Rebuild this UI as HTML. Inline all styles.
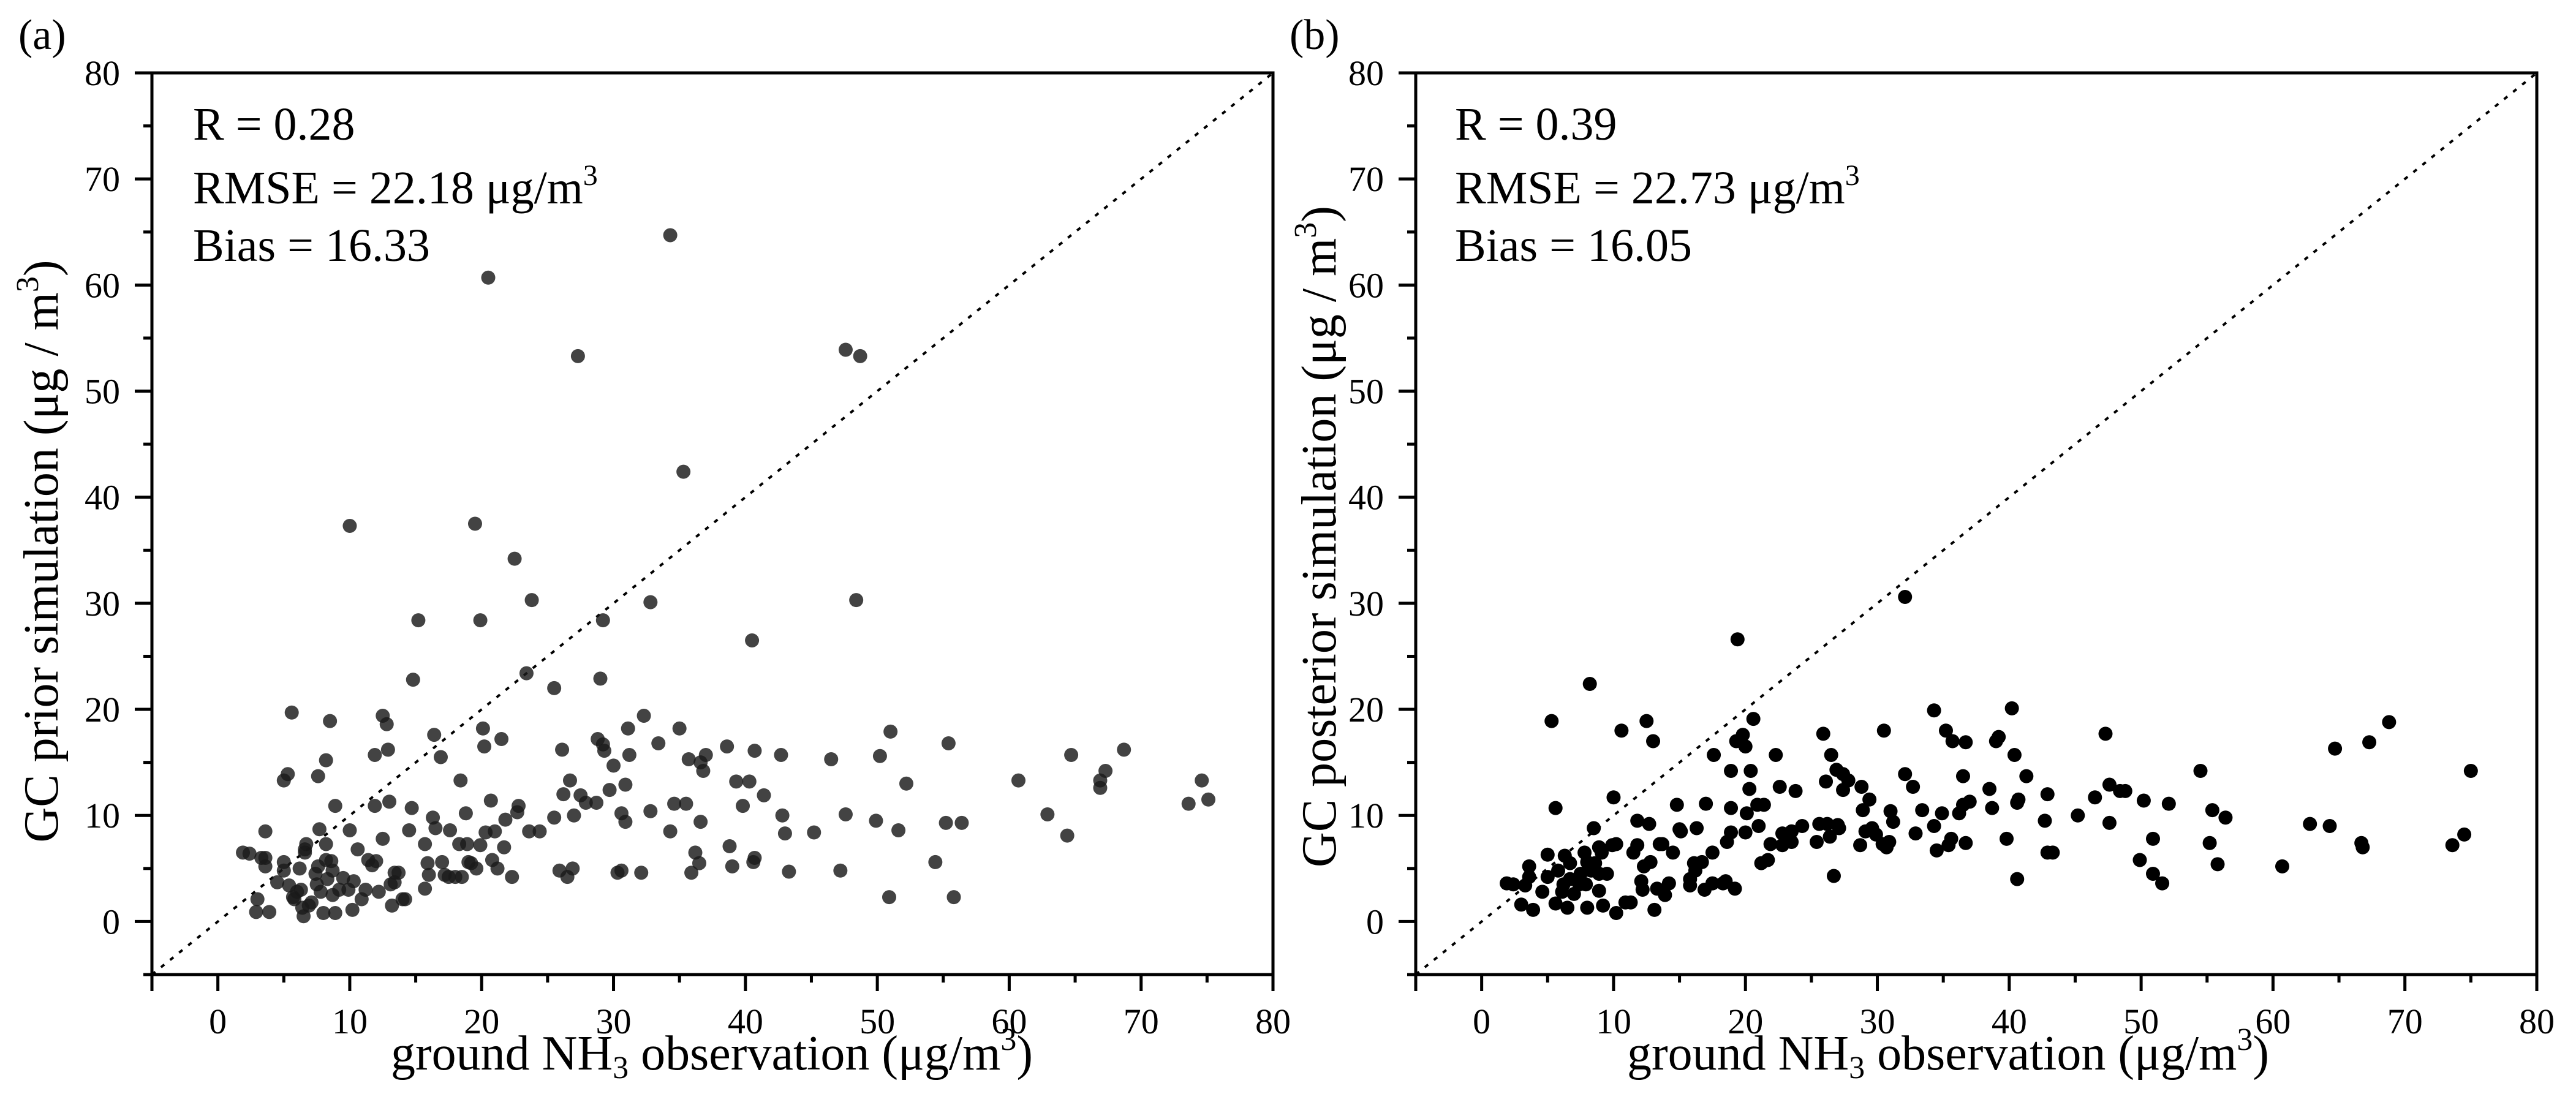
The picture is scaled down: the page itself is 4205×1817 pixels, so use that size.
<!DOCTYPE html>
<html><head><meta charset="utf-8"><style>
html,body{margin:0;padding:0;background:#fff}
svg{display:block}
text,tspan{font-family:"Liberation Serif","Times New Roman",serif}
</style></head><body>
<svg id="fig" width="4205" height="1817" viewBox="0 0 4205 1817" xmlns="http://www.w3.org/2000/svg">
<rect width="4205" height="1817" fill="#fff"/>
<g id="panelA"></g>
<g id="panelB"></g>
</svg>
<script>
const xTickValues=[0,10,20,30,40,50,60,70,80];
const yTickValues=[0,10,20,30,40,50,60,70,80];
const minorTickValues=[-5,5,15,25,35,45,55,65,75];
const priorX=[1.9,2.4,3.0,2.9,3.9,3.3,3.6,3.6,3.6,4.5,5.0,5.0,5.0,5.3,5.6,5.4,5.7,5.8,6.0,6.2,6.3,6.4,6.5,6.6,6.6,6.7,6.9,7.1,7.4,7.6,7.6,7.7,7.5,7.8,8.0,8.2,8.2,8.2,8.3,8.5,8.6,8.7,8.7,8.9,8.9,9.2,9.5,9.9,10.0,10.0,10.2,10.3,10.6,10.9,11.2,11.4,11.7,11.9,11.9,12.0,12.2,12.5,12.5,12.8,12.9,13.0,13.1,13.2,13.4,13.4,13.7,14.0,14.2,14.5,14.7,14.8,15.2,15.7,15.7,15.9,16.0,16.3,16.4,16.5,16.9,17.0,17.2,17.5,17.6,18.0,18.3,18.4,18.5,18.8,18.9,19.0,19.2,19.5,19.6,19.9,19.9,20.1,20.2,20.3,20.5,20.7,20.8,21.0,21.2,21.5,21.7,21.8,22.3,22.5,22.7,22.8,23.6,23.4,23.8,24.4,25.5,25.5,25.9,26.1,26.2,26.5,26.7,26.9,27.0,27.3,27.5,27.9,28.7,28.8,29.0,29.2,29.3,29.2,29.7,30.0,30.3,30.6,30.6,30.9,30.9,31.1,31.2,32.1,32.3,32.8,32.8,33.4,34.3,34.3,34.6,35.0,35.3,35.5,35.7,35.9,36.2,36.5,36.6,36.6,36.8,37.0,38.6,38.8,39.0,39.3,39.8,40.3,40.5,40.6,40.7,40.7,41.4,42.7,42.8,43.0,43.3,45.2,46.5,47.2,47.6,47.6,48.4,48.7,49.9,50.2,50.9,51.0,51.6,52.2,54.4,55.2,55.4,55.8,56.4,60.7,62.9,64.4,64.7,66.9,66.9,67.3,68.7,73.6,74.6,75.1];
const priorY=[6.5,6.4,2.1,0.9,0.9,6.0,6.0,5.2,8.5,3.7,5.6,4.8,13.3,13.9,19.7,3.4,2.3,2.1,2.8,5.0,3.0,1.3,0.5,6.5,6.8,7.3,1.5,1.8,4.5,5.2,13.7,8.7,3.5,2.8,0.8,7.3,15.2,5.8,4.0,18.9,5.7,4.8,2.5,0.8,10.9,3.0,4.1,3.0,8.6,37.3,1.1,3.8,6.8,2.1,3.0,5.8,5.3,10.9,15.7,5.7,2.8,7.8,19.4,18.6,16.2,11.3,3.5,1.5,3.7,4.6,4.6,2.1,2.1,8.6,10.7,22.8,28.4,7.3,3.1,5.5,4.4,9.8,17.6,8.8,15.5,5.6,4.4,4.2,8.6,4.2,7.3,13.3,4.2,10.2,7.3,5.6,5.5,37.5,5.0,7.2,28.4,18.2,16.5,8.4,60.7,11.4,5.8,8.5,5.0,17.2,7.0,9.6,4.2,34.2,10.3,10.9,8.5,23.4,30.3,8.5,22.0,9.8,4.8,16.2,12.0,4.2,13.3,5.0,10.0,53.3,11.9,11.2,11.2,17.2,22.9,16.7,16.1,28.4,12.4,14.7,4.6,4.8,10.2,12.9,9.4,18.2,15.7,4.6,19.4,10.4,30.1,16.8,8.5,64.7,11.1,18.2,42.4,11.1,15.3,4.6,6.5,5.5,9.4,15.0,14.2,15.7,16.5,7.1,5.2,13.2,10.9,13.2,26.5,5.6,6.0,16.1,11.9,15.7,10.0,8.3,4.7,8.4,15.3,4.8,10.1,53.9,30.3,53.3,9.5,15.6,2.3,17.9,8.6,13.0,5.6,9.3,16.8,2.3,9.3,13.3,10.1,8.1,15.7,13.3,12.6,14.2,16.2,11.1,13.3,11.5];
const postX=[1.9,2.4,3.0,3.3,3.6,3.6,3.9,4.6,5.0,5.0,5.3,5.6,5.6,5.8,6.1,6.3,6.2,6.5,6.7,6.7,7.0,7.4,7.5,7.8,7.9,8.0,8.0,8.2,8.3,8.5,8.6,8.9,8.9,8.9,9.1,9.2,9.5,9.9,10.0,10.2,10.2,10.6,10.9,11.3,11.5,11.8,11.8,12.1,12.2,12.3,12.5,12.7,12.8,13.0,13.1,13.3,13.5,13.7,13.9,14.2,14.5,14.8,15.0,15.1,15.8,15.8,16.1,16.2,16.3,16.7,16.9,17.0,17.5,17.5,17.6,18.3,18.5,18.6,18.9,18.9,18.9,19.2,19.4,19.3,19.8,20.0,20.0,20.1,20.3,20.4,20.6,20.9,21.0,21.4,21.2,21.7,21.9,22.3,22.6,22.8,22.8,23.5,23.5,23.8,24.3,25.4,25.6,25.9,26.1,26.2,26.4,26.5,26.7,26.9,27.0,27.1,27.4,27.4,27.8,28.7,28.8,28.9,29.1,29.4,29.6,29.9,30.4,30.5,30.7,30.9,31.0,31.2,32.1,32.1,32.7,32.9,33.4,34.3,34.3,34.5,34.9,35.2,35.4,35.6,35.7,36.2,36.5,36.5,36.7,36.7,37.0,38.5,38.7,39.0,39.2,39.8,40.2,40.4,40.6,40.6,40.7,41.3,42.7,42.9,42.9,43.3,45.2,46.5,47.3,47.6,47.6,48.4,48.8,49.9,50.2,50.9,50.9,51.6,52.1,54.5,55.2,55.4,55.8,56.4,60.7,62.8,64.3,64.7,66.7,66.8,67.3,68.8,73.6,74.5,75.0];
const postY=[3.6,3.5,1.6,3.4,5.2,4.2,1.1,2.8,4.2,6.3,18.9,10.7,1.7,4.8,2.8,6.2,3.5,1.3,5.5,4.0,2.6,3.5,4.5,6.5,3.5,5.6,1.3,22.4,4.8,8.8,5.5,4.5,2.9,7.0,6.5,1.5,4.5,7.2,11.7,0.8,7.3,18.0,1.8,1.8,6.5,7.2,9.5,3.8,3.0,5.2,18.9,9.2,5.6,17.0,1.1,3.1,7.3,7.3,2.5,3.6,6.5,11.0,8.7,8.5,3.4,4.0,5.5,4.8,8.8,5.6,3.0,11.1,6.5,3.6,15.7,3.6,3.8,7.5,14.2,10.7,8.4,3.1,26.6,17.0,17.6,16.5,8.4,10.2,12.5,14.2,19.1,11.0,9.0,11.0,5.5,5.8,7.3,15.7,12.7,8.3,7.2,8.5,7.5,12.3,9.0,7.5,9.2,17.7,13.2,9.2,8.0,15.7,4.3,14.3,9.1,8.8,12.4,13.9,13.3,7.2,12.7,10.5,8.5,11.5,8.8,8.2,7.3,18.0,7.0,7.5,10.4,9.4,13.9,30.6,12.7,8.3,10.5,19.9,9.0,6.7,10.2,18.0,7.2,7.8,17.0,10.2,13.7,11.0,7.4,16.9,11.3,12.5,10.7,17.0,17.4,7.8,20.1,15.7,11.2,4.0,11.5,13.7,9.5,12.0,6.5,6.5,10.0,11.7,17.7,12.9,9.3,12.3,12.3,5.8,11.4,7.8,4.5,3.6,11.1,14.2,7.4,10.5,5.4,9.8,5.2,9.2,9.0,16.3,7.4,7.0,16.9,18.8,7.2,8.2,14.2];

const NS='http://www.w3.org/2000/svg';
function mk(parent,tag,attrs){const e=document.createElementNS(NS,tag);for(const k in attrs)e.setAttribute(k,attrs[k]);parent.appendChild(e);return e;}

function drawPanel(g,cfg){
  const L=cfg.left,R=cfg.right,T=119,B=1591,d0=-5,d1=80;
  const sx=v=>L+(v-d0)/(d1-d0)*(R-L);
  const sy=v=>B-(v-d0)/(d1-d0)*(B-T);
  const diag=mk(g,'line',{x1:sx(-5),y1:sy(-5),x2:sx(80),y2:sy(80),stroke:'#000','stroke-width':4,'stroke-dasharray':'7 12'});
  
  
  const pg=mk(g,'g',{});
  
  
  for(let i=0;i<cfg.xs.length;i++){
    const c=mk(pg,'circle',{cx:sx(cfg.xs[i]),cy:sy(cfg.ys[i]),r:11.5,fill:cfg.fill,'fill-opacity':cfg.op});
    
    
  }
  const fr=mk(g,'rect',{x:L,y:T,width:R-L,height:B-T,fill:'none',stroke:'#000','stroke-width':5});
  
  
  const tg=mk(g,'g',{stroke:'#000','stroke-width':5});
  
  
  mk(tg,'line',{x1:sx(-5),y1:B,x2:sx(-5),y2:B+27});
  xTickValues.forEach(v=>mk(tg,'line',{x1:sx(v),y1:B,x2:sx(v),y2:B+27}));
  yTickValues.forEach(v=>mk(tg,'line',{x1:L,y1:sy(v),x2:L-28,y2:sy(v)}));
  minorTickValues.forEach(v=>{if(v>-5)mk(tg,'line',{x1:sx(v),y1:B,x2:sx(v),y2:B+13});mk(tg,'line',{x1:L,y1:sy(v),x2:L-14,y2:sy(v)});});
  const lg=mk(g,'g',{'font-size':58,fill:'#000'});
  
  
  xTickValues.forEach(v=>{const t=mk(lg,'text',{x:sx(v),y:1687,'text-anchor':'middle'});t.textContent=v;
    
    });
  yTickValues.forEach(v=>{const t=mk(lg,'text',{x:L-52,y:sy(v)+20,'text-anchor':'end'});t.textContent=v;
    
    });
}
drawPanel(document.getElementById('panelA'),{left:248,right:2078,xs:priorX,ys:priorY,fill:'#1a1a1a',op:0.82});
drawPanel(document.getElementById('panelB'),{left:2311,right:4141,xs:postX,ys:postY,fill:'#000',op:1});
</script>
<svg style="position:absolute;left:0;top:0" width="4205" height="1817" xmlns="http://www.w3.org/2000/svg" xml:space="preserve">
<text x="30" y="80" font-size="70">(a)</text>
<text x="2105" y="80" font-size="70">(b)</text>
<g font-size="76">
<text x="315" y="228">R = 0.28</text>
<text x="315" y="332">RMSE = 22.18 μg/m<tspan font-size="48" dy="-30">3</tspan></text>
<text x="315" y="426">Bias = 16.33</text>
</g>
<g font-size="76">
<text x="2375" y="228">R = 0.39</text>
<text x="2375" y="332">RMSE = 22.73 μg/m<tspan font-size="48" dy="-30">3</tspan></text>
<text x="2375" y="426">Bias = 16.05</text>
</g>
<text x="1162" y="1746" font-size="80" text-anchor="middle">ground NH<tspan font-size="52" dy="14">3</tspan><tspan dy="-14"> observation  (μg/m</tspan><tspan font-size="52" dy="-32">3</tspan><tspan dy="32">)</tspan></text>
<text x="3180" y="1746" font-size="80" text-anchor="middle">ground NH<tspan font-size="52" dy="14">3</tspan><tspan dy="-14"> observation  (μg/m</tspan><tspan font-size="52" dy="-32">3</tspan><tspan dy="32">)</tspan></text>
<text transform="translate(94,900) rotate(-90)" font-size="80" text-anchor="middle">GC prior simulation  (μg / m<tspan font-size="52" dy="-32">3</tspan><tspan dy="32">)</tspan></text>
<text transform="translate(2180,876) rotate(-90)" font-size="80" text-anchor="middle">GC posterior simulation  (μg / m<tspan font-size="52" dy="-32">3</tspan><tspan dy="32">)</tspan></text>
</svg>
</body></html>
